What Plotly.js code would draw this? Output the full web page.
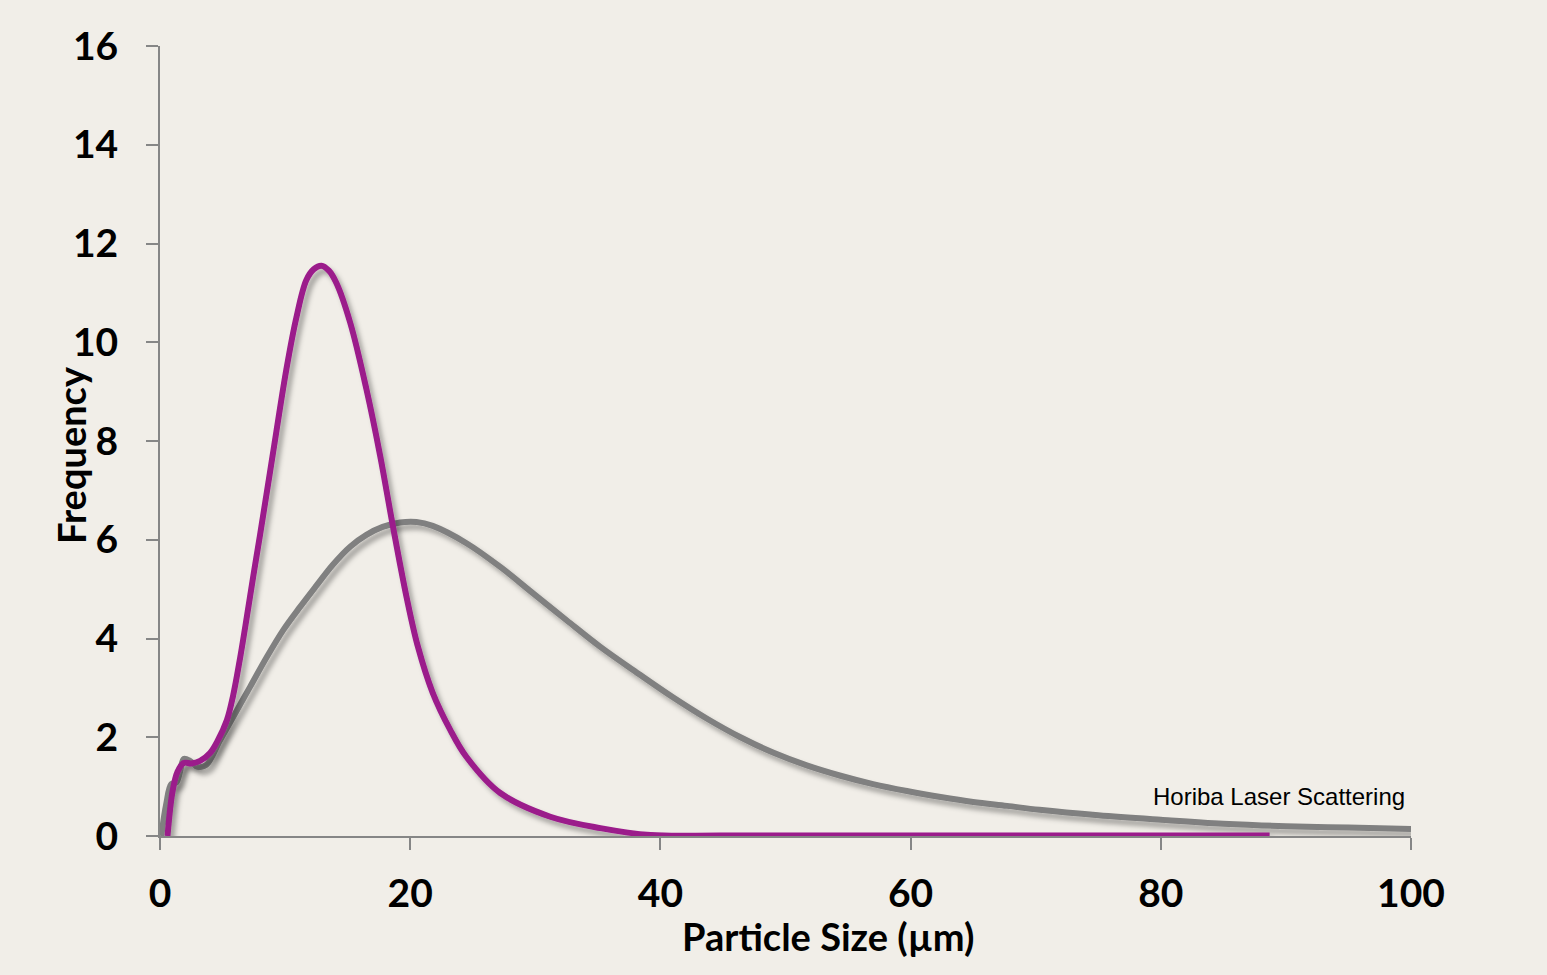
<!DOCTYPE html>
<html>
<head>
<meta charset="utf-8">
<script src="https://cdn.plot.ly/plotly-3.0.1.min.js"></script>
<style>
  html, body { margin: 0; padding: 0; background: #f1eee8; }
  #chart { width: 1547px; height: 975px; }
  .scatterlayer .js-line { filter: url(#lineShadow); }
</style>
</head>
<body>
<svg width="0" height="0" style="position:absolute">
  <defs>
    <filter id="lineShadow" x="-10%" y="-10%" width="130%" height="130%">
      <feDropShadow dx="4" dy="5" stdDeviation="2.5" flood-color="#000000" flood-opacity="0.32"/>
    </filter>
  </defs>
</svg>
<div id="chart"></div>
<script>
// Gray series (Horiba laser scattering)
const grayX = [0.1, 0.5, 0.9, 1.3, 1.6, 1.9, 2.4, 3.0, 3.7, 4.8, 5.85, 7.2, 8.55, 9.85, 11.2, 12.5, 13.8, 15.2, 16.5, 17.8, 19.2, 20.5, 21.8, 24.5, 27.2, 29.8, 32.5, 35.2, 38.4, 41.0, 43.7, 46.4, 49.0, 51.7, 54.4, 57.0, 59.7, 62.4, 65.0, 67.7, 70.3, 75, 80, 85, 90, 95, 100];
const grayY = [0, 0.65, 1.05, 1.08, 1.3, 1.56, 1.52, 1.4, 1.44, 1.94, 2.41, 3.02, 3.63, 4.17, 4.64, 5.07, 5.49, 5.86, 6.1, 6.26, 6.35, 6.36, 6.28, 5.93, 5.45, 4.92, 4.37, 3.83, 3.26, 2.81, 2.38, 2.0, 1.69, 1.43, 1.22, 1.05, 0.91, 0.79, 0.69, 0.61, 0.53, 0.42, 0.33, 0.25, 0.2, 0.17, 0.14];

// Purple series
const purpleX = [0.6, 1.0, 1.4, 1.9, 2.5, 3.2, 4.0, 4.55, 5.35, 5.85, 6.4, 6.95, 7.45, 8.0, 9.0, 10.1, 10.9, 11.7, 12.3, 12.9, 13.5, 14.1, 15.2, 16.5, 17.6, 18.6, 19.7, 20.6, 21.8, 23.2, 24.5, 27.2, 31.2, 35.2, 39.2, 45, 60, 75, 88.7];
const purpleY = [0, 0.9, 1.3, 1.48, 1.47, 1.52, 1.68, 1.9, 2.35, 2.85, 3.6, 4.45, 5.25, 6.1, 7.7, 9.45, 10.5, 11.26, 11.48, 11.55, 11.45, 11.2, 10.4, 9.05, 7.7, 6.3, 4.85, 3.85, 2.9, 2.15, 1.6, 0.87, 0.39, 0.16, 0.02, 0.01, 0.01, 0.01, 0.01];

const xTicks = [0, 20, 40, 60, 80, 100];
const yTicks = [0, 2, 4, 6, 8, 10, 12, 14, 16];

const xTitle = 'Particle Size (µm)';
const yTitle = 'Frequency';
const annotationText = 'Horiba Laser Scattering';
const annotationX = 99.7;
const annotationY = 0.81;

const boldFont = { family: 'Lato, "Liberation Sans", sans-serif', size: 39, color: '#000000', weight: 700 };
const titleFont = { family: 'Lato, "Liberation Sans", sans-serif', size: 38, color: '#000000', weight: 700 };

const traces = [
  { x: grayX, y: grayY, type: 'scatter', mode: 'lines', name: 'Horiba Laser Scattering',
    line: { color: '#808080', width: 6, shape: 'spline', smoothing: 1 } },
  { x: purpleX, y: purpleY, type: 'scatter', mode: 'lines', name: 'Other',
    line: { color: '#9b1b8b', width: 6, shape: 'spline', smoothing: 1 } }
];

const layout = {
  width: 1547, height: 975,
  paper_bgcolor: '#f1eee8', plot_bgcolor: '#f1eee8',
  margin: { l: 160, r: 136, t: 46, b: 139 },
  showlegend: false,
  xaxis: {
    range: [0, 100], tickvals: xTicks, ticktext: xTicks.map(String),
    showgrid: false, zeroline: false, showline: true, linecolor: '#868686', linewidth: 2,
    ticks: 'outside', ticklen: 12, tickwidth: 2, tickcolor: '#868686',
    ticklabelstandoff: 10,
    tickfont: boldFont
  },
  yaxis: {
    range: [0, 16], tickvals: yTicks, ticktext: yTicks.map(String),
    showgrid: false, zeroline: false, showline: true, linecolor: '#868686', linewidth: 2,
    ticks: 'outside', ticklen: 12, tickwidth: 2, tickcolor: '#868686',
    ticklabelstandoff: 20,
    tickfont: boldFont
  },
  annotations: [
    {
      x: annotationX, y: annotationY, xref: 'x', yref: 'y',
      text: annotationText, showarrow: false, xanchor: 'right', yanchor: 'middle',
      font: { family: '"Liberation Sans", Arial, sans-serif', size: 24, color: '#000000' }
    },
    {
      x: (828 - 160) / 1251, y: (836 - 936) / 790, xref: 'paper', yref: 'paper',
      text: xTitle, showarrow: false, xanchor: 'center', yanchor: 'middle',
      font: titleFont
    },
    {
      x: (71 - 160) / 1251, y: (836 - 455) / 790, xref: 'paper', yref: 'paper',
      text: yTitle, showarrow: false, xanchor: 'center', yanchor: 'middle', textangle: -90,
      font: titleFont
    }
  ]
};

Plotly.newPlot('chart', traces, layout, { displayModeBar: false, staticPlot: true });
</script>
</body>
</html>
